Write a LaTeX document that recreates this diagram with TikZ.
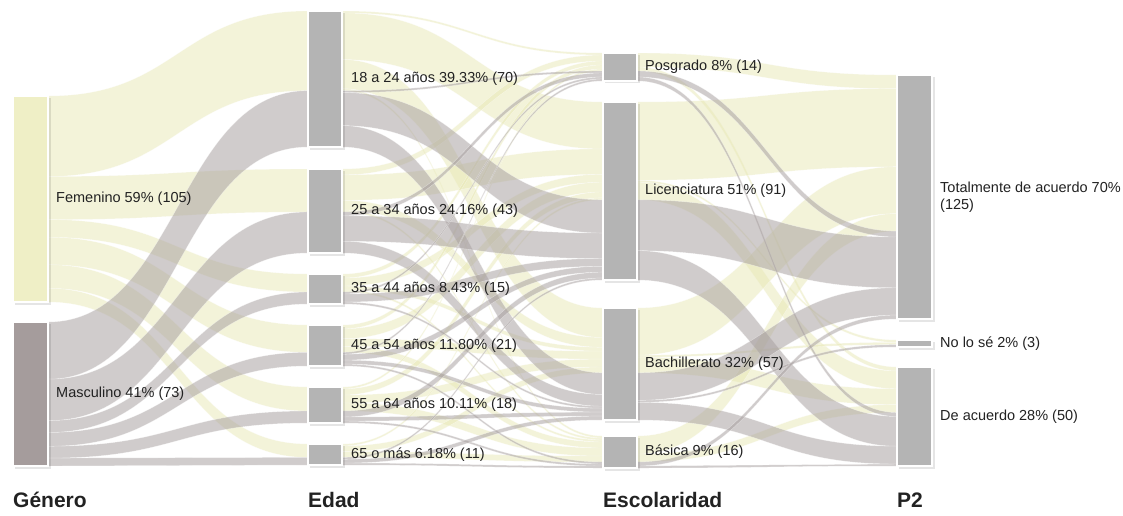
\documentclass[tikz,border=0pt]{standalone}
\usepackage{fontspec}
\setmainfont{Liberation Sans}
\definecolor{fem}{HTML}{EFEFC6}
\definecolor{masc}{HTML}{A59C9C}
\definecolor{nodeg}{HTML}{B4B4B4}
\definecolor{femflow}{HTML}{E8E8B4}
\definecolor{mascflow}{HTML}{A69E9E}
\definecolor{txt}{HTML}{222222}
\tikzset{
  fflow/.style={fill=femflow, fill opacity=0.5, draw=white, draw opacity=0.45, line width=0.4pt},
  mflow/.style={fill=mascflow, fill opacity=0.52, draw=white, draw opacity=0.45, line width=0.4pt},
  bar/.style={draw=white, line width=1.5pt, inner sep=0pt, outer sep=0pt, anchor=north west},
  lbl/.style={font=\fontsize{14.5}{17}\selectfont, anchor=west, inner sep=0pt, text=txt, align=left},
  ttl/.style={font=\bfseries\fontsize{21}{23}\selectfont, anchor=west, inner sep=0pt, text=txt},
}
% node geometry: name, x-left, x-right, top, bottom, total
\newcommand\defnode[6]{%
  \expandafter\def\csname nd#1l\endcsname{#2}%
  \expandafter\def\csname nd#1r\endcsname{#3}%
  \expandafter\def\csname nd#1t\endcsname{#4}%
  \expandafter\def\csname nd#1b\endcsname{#5}%
  \expandafter\def\csname nd#1s\endcsname{((#5-#4)/#6)}}
% flow: style, source, source offset, target, target offset, value
\newcommand\fl[6]{%
  \pgfmathsetmacro\flYa{\csname nd#2t\endcsname+(#3)*\csname nd#2s\endcsname}%
  \pgfmathsetmacro\flYb{\flYa+(#6)*\csname nd#2s\endcsname}%
  \pgfmathsetmacro\flYc{\csname nd#4t\endcsname+(#5)*\csname nd#4s\endcsname}%
  \pgfmathsetmacro\flYd{\flYc+(#6)*\csname nd#4s\endcsname}%
  \pgfmathsetmacro\flXa{\csname nd#2r\endcsname}%
  \pgfmathsetmacro\flXb{\csname nd#4l\endcsname}%
  \pgfmathsetmacro\flXm{(\flXa+\flXb)/2}%
  \path[#1] (\flXa,-\flYa) .. controls (\flXm,-\flYa) and (\flXm,-\flYc) .. (\flXb,-\flYc)
     -- (\flXb,-\flYd) .. controls (\flXm,-\flYd) and (\flXm,-\flYb) .. (\flXa,-\flYb) -- cycle;}
% box with shadow
\newcommand\bx[2]{%
  \fill[black,opacity=0.10] ({\csname nd#1l\endcsname+2},{-\csname nd#1t\endcsname-2}) rectangle ({\csname nd#1r\endcsname+2.5},{-\csname nd#1b\endcsname-2.5});
  \node[bar, fill=#2, minimum width={(\csname nd#1r\endcsname-\csname nd#1l\endcsname)*1pt},
        minimum height={(\csname nd#1b\endcsname-\csname nd#1t\endcsname)*1pt}]
        (#1) at ({\csname nd#1l\endcsname},{-\csname nd#1t\endcsname}) {};}

\defnode{Fem}{13}{48}{96}{302}{105}
\defnode{Masc}{13}{48}{322}{466}{73}
\defnode{Aa}{308}{342}{11}{147}{70}
\defnode{Ab}{308}{342}{169}{253}{43}
\defnode{Ac}{308}{342}{274}{304}{15}
\defnode{Ad}{308}{342}{325}{366}{21}
\defnode{Ae}{308}{342}{387}{423}{18}
\defnode{Af}{308}{342}{444}{465}{11}
\defnode{Ea}{603}{637}{53}{81}{14}
\defnode{Eb}{603}{637}{102}{280}{91}
\defnode{Ec}{603}{637}{308}{420}{57}
\defnode{Ed}{603}{637}{436}{468}{16}
\defnode{Pa}{897}{932}{75}{319}{125}
\defnode{Pb}{897}{932}{340}{347}{3}
\defnode{Pc}{897}{932}{367}{466}{50}

\begin{document}
\begin{tikzpicture}[x=1pt,y=1pt]
\useasboundingbox (0,0) rectangle (1123,-516);
\fill[white] (0,0) rectangle (1123,-516);

% ---- stage 1: Genero -> Edad
\fl{fflow}{Fem}{0}{Aa}{0}{41}
\fl{fflow}{Fem}{41}{Ab}{0}{22}
\fl{fflow}{Fem}{63}{Ac}{0}{9}
\fl{fflow}{Fem}{72}{Ad}{0}{14}
\fl{fflow}{Fem}{86}{Ae}{0}{12}
\fl{fflow}{Fem}{98}{Af}{0}{7}
\fl{mflow}{Masc}{0}{Aa}{41}{29}
\fl{mflow}{Masc}{29}{Ab}{22}{21}
\fl{mflow}{Masc}{50}{Ac}{9}{6}
\fl{mflow}{Masc}{56}{Ad}{14}{7}
\fl{mflow}{Masc}{63}{Ae}{12}{6}
\fl{mflow}{Masc}{69}{Af}{7}{4}

% ---- stage 2: Edad -> Escolaridad (femenino)
\fl{fflow}{Aa}{0}{Ea}{0}{1}
\fl{fflow}{Aa}{1}{Eb}{0}{24}
\fl{fflow}{Aa}{25}{Ec}{0}{15}
\fl{fflow}{Aa}{40}{Ed}{0}{1}
\fl{fflow}{Ab}{0}{Ea}{1}{3}
\fl{fflow}{Ab}{3}{Eb}{24}{13}
\fl{fflow}{Ab}{16}{Ec}{15}{5}
\fl{fflow}{Ab}{21}{Ed}{1}{1}
\fl{fflow}{Ac}{0}{Ea}{4}{2}
\fl{fflow}{Ac}{2}{Eb}{37}{4}
\fl{fflow}{Ac}{6}{Ec}{20}{2}
\fl{fflow}{Ac}{8}{Ed}{2}{1}
\fl{fflow}{Ad}{0}{Ea}{6}{2}
\fl{fflow}{Ad}{2}{Eb}{41}{5}
\fl{fflow}{Ad}{7}{Ec}{22}{4}
\fl{fflow}{Ad}{11}{Ed}{3}{3}
\fl{fflow}{Ae}{0}{Ea}{8}{1}
\fl{fflow}{Ae}{1}{Eb}{46}{3}
\fl{fflow}{Ae}{4}{Ec}{26}{4}
\fl{fflow}{Ae}{8}{Ed}{6}{4}
\fl{fflow}{Af}{0}{Eb}{49}{1}
\fl{fflow}{Af}{1}{Ec}{30}{3}
\fl{fflow}{Af}{4}{Ed}{10}{3}
% (masculino)
\fl{mflow}{Aa}{41}{Ea}{9}{1}
\fl{mflow}{Aa}{42}{Eb}{50}{17}
\fl{mflow}{Aa}{59}{Ec}{33}{11}
\fl{mflow}{Ab}{22}{Ea}{10}{2}
\fl{mflow}{Ab}{24}{Eb}{67}{13}
\fl{mflow}{Ab}{37}{Ec}{44}{6}
\fl{mflow}{Ac}{9}{Ea}{12}{1}
\fl{mflow}{Ac}{10}{Eb}{80}{4}
\fl{mflow}{Ac}{14}{Ec}{50}{1}
\fl{mflow}{Ad}{14}{Ea}{13}{1}
\fl{mflow}{Ad}{15}{Eb}{84}{3}
\fl{mflow}{Ad}{18}{Ec}{51}{2}
\fl{mflow}{Ad}{20}{Ed}{13}{1}
\fl{mflow}{Ae}{12}{Eb}{87}{3}
\fl{mflow}{Ae}{15}{Ec}{53}{2}
\fl{mflow}{Ae}{17}{Ed}{14}{1}
\fl{mflow}{Af}{7}{Eb}{90}{1}
\fl{mflow}{Af}{8}{Ec}{55}{2}
\fl{mflow}{Af}{10}{Ed}{15}{1}

% ---- stage 3: Escolaridad -> P2 (femenino)
\fl{fflow}{Ea}{0}{Pa}{0}{7}
\fl{fflow}{Ea}{7}{Pc}{0}{2}
\fl{fflow}{Eb}{0}{Pa}{7}{40}
\fl{fflow}{Eb}{40}{Pb}{0}{1}
\fl{fflow}{Eb}{41}{Pc}{2}{9}
\fl{fflow}{Ec}{0}{Pa}{47}{24}
\fl{fflow}{Ec}{24}{Pb}{1}{1}
\fl{fflow}{Ec}{25}{Pc}{11}{8}
\fl{fflow}{Ed}{0}{Pa}{71}{9}
\fl{fflow}{Ed}{9}{Pc}{19}{4}
% (masculino)
\fl{mflow}{Ea}{9}{Pa}{80}{3}
\fl{mflow}{Ea}{12}{Pc}{23}{2}
\fl{mflow}{Eb}{50}{Pa}{83}{26}
\fl{mflow}{Eb}{76}{Pc}{25}{15}
\fl{mflow}{Ec}{33}{Pa}{109}{14}
\fl{mflow}{Ec}{47}{Pb}{2}{1}
\fl{mflow}{Ec}{48}{Pc}{40}{9}
\fl{mflow}{Ed}{13}{Pa}{123}{2}
\fl{mflow}{Ed}{15}{Pc}{49}{1}

% ---- nodes
\bx{Fem}{fem}
\bx{Masc}{masc}
\bx{Aa}{nodeg}
\bx{Ab}{nodeg}
\bx{Ac}{nodeg}
\bx{Ad}{nodeg}
\bx{Ae}{nodeg}
\bx{Af}{nodeg}
\bx{Ea}{nodeg}
\bx{Eb}{nodeg}
\bx{Ec}{nodeg}
\bx{Ed}{nodeg}
\bx{Pa}{nodeg}
\bx{Pb}{nodeg}
\bx{Pc}{nodeg}

% ---- labels
\node[lbl] (lFem) at ([xshift=8pt]Fem.east) {Femenino 59\% (105)};
\node[lbl] (lMasc) at ([xshift=8pt]Masc.east) {Masculino 41\% (73)};
\node[lbl] (lAa) at ([xshift=9pt]Aa.east) {18 a 24 años 39.33\% (70)};
\node[lbl] (lAb) at ([xshift=9pt]Ab.east) {25 a 34 años 24.16\% (43)};
\node[lbl] (lAc) at ([xshift=9pt]Ac.east) {35 a 44 años 8.43\% (15)};
\node[lbl] (lAd) at ([xshift=9pt]Ad.east) {45 a 54 años 11.80\% (21)};
\node[lbl] (lAe) at ([xshift=9pt]Ae.east) {55 a 64 años 10.11\% (18)};
\node[lbl] (lAf) at ([xshift=9pt]Af.east) {65 o más 6.18\% (11)};
\node[lbl] (lEa) at ([xshift=8pt]Ea.east) {Posgrado 8\% (14)};
\node[lbl] (lEb) at ([xshift=8pt]Eb.east) {Licenciatura 51\% (91)};
\node[lbl] (lEc) at ([xshift=8pt]Ec.east) {Bachillerato 32\% (57)};
\node[lbl] (lEd) at ([xshift=8pt]Ed.east) {Básica 9\% (16)};
\node[lbl] (lPa) at ([xshift=8pt]Pa.east) {Totalmente de acuerdo 70\%\\(125)};
\node[lbl] (lPb) at ([xshift=8pt]Pb.east) {No lo sé 2\% (3)};
\node[lbl] (lPc) at ([xshift=8pt]Pc.east) {De acuerdo 28\% (50)};

% ---- column titles
\node[ttl] (tG) at (13,-500) {Género};
\node[ttl] (tE) at (308,-500) {Edad};
\node[ttl] (tS) at (603,-500) {Escolaridad};
\node[ttl] (tP) at (897,-500) {P2};
\end{tikzpicture}
\end{document}
